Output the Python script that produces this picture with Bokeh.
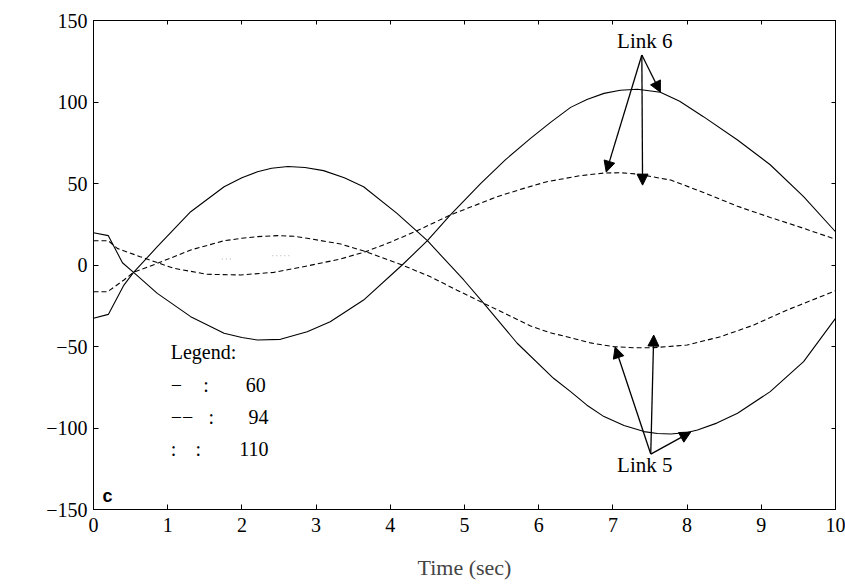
import math
from bokeh.plotting import figure
from bokeh.models import LinearAxis, Range1d, FixedTicker, Label, Arrow, NormalHead
from bokeh.embed import file_html
from bokeh.resources import INLINE

# ---- data ----
x_ticks = [0, 1, 2, 3, 4, 5, 6, 7, 8, 9, 10]
y_ticks = [-150, -100, -50, 0, 50, 100, 150]
y_tick_labels = ["\u2212150", "\u2212100", "\u221250", "0", "50", "100", "150"]

# Link 6, solid (60)
l6s_t = [0, 0.2, 0.39, 0.54, 0.86, 1.31, 1.76, 2.0, 2.21, 2.52, 2.88, 3.19, 3.64, 4.16, 4.5,
         4.81, 5.22, 5.55, 5.89, 6.16, 6.43, 6.65, 6.88, 7.1, 7.33, 7.64, 7.9, 8.22, 8.68, 9.12, 9.57, 10]
l6s_v = [19.8, 18, 1.4, -4.5, -17.4, -31.7, -41.9, -44.5, -46, -45.6, -40.9, -34.8, -21.5, 0, 14.9,
         30.7, 50.1, 64.5, 77.7, 87.5, 96.7, 101.5, 105.3, 107.2, 107.8, 106, 100.5, 91, 76.7, 61.5, 41.9, 20.4]

# Link 5, solid (60)
l5s_t = [0, 0.2, 0.41, 0.54, 0.86, 1.31, 1.76, 2.0, 2.21, 2.4, 2.62, 2.85, 3.10, 3.38, 3.64, 4.09, 4.5,
         4.99, 5.26, 5.71, 6.2, 6.43, 6.65, 6.88, 7.15, 7.42, 7.6, 7.78, 8.0, 8.14, 8.4, 8.68, 9.12, 9.57, 10]
l5s_v = [-32.7, -30.3, -12.3, -4.5, 11.2, 32.7, 48, 53.5, 57.2, 59.4, 60.4, 59.8, 57.9, 53.5, 48, 31.7, 14.9,
         -9.2, -23.5, -48, -69.5, -77.7, -86, -93, -98.5, -102.2, -103.4, -103.7, -102.8, -101.2, -97, -91, -77.7, -59.3, -32.7]

# Link 6, dashed (94)
l6d_t = [0, 0.2, 0.32, 0.63, 1.08, 1.53, 1.98, 2.43, 2.88, 3.33, 3.67, 4.0, 4.36, 4.81, 5.44,
         5.8, 6.11, 6.56, 6.88, 7.1, 7.33, 7.78, 8.22, 8.68, 9.12, 9.57, 10]
l6d_v = [14.9, 14.9, 10.2, 5.1, -2, -5.7, -6.1, -4.5, -0.6, 3.7, 8.2, 14, 21, 30.7, 41.9,
         47, 51.1, 54.8, 56.4, 56.6, 55.8, 52.1, 44.5, 36, 29.2, 22.5, 15.8]

# Link 5, dashed (94)
l5d_t = [0, 0.19, 0.41, 0.54, 0.86, 1.31, 1.76, 2.0, 2.21, 2.48, 2.7, 2.88, 3.33, 3.67, 4.16, 4.54,
         4.9, 5.26, 5.6, 5.89, 6.15, 6.43, 6.7, 7.01, 7.3, 7.55, 8.0, 8.45, 8.9, 9.35, 10]
l5d_v = [-16.4, -16.4, -9.2, -4.5, 1, 9.2, 14.9, 16.4, 17.4, 18, 17.6, 16.4, 12.9, 8.2, 0, -7.2,
         -15.5, -23.5, -31, -37.4, -41.5, -44.6, -47.8, -50.1, -50.8, -50.7, -49.1, -44, -36.8, -27.6, -15.8]

# faint visible fragments of the dotted (110) traces
dot1_t = [1.73, 1.87]
dot1_v = [3.7, 3.7]
dot2_t = [2.41, 2.68]
dot2_v = [5.7, 5.7]

legend_title = "Legend:"
legend_styles = ["\u2212", "\u2212\u2212", ":"]
legend_values = ["60", "94", "110"]

SERIF = "Liberation Serif"

p = figure(width=845, height=584, x_range=Range1d(0, 10), y_range=Range1d(-150, 150),
           output_backend="svg", toolbar_location=None,
           min_border_left=93, min_border_right=10, min_border_top=20, min_border_bottom=75,
           background_fill_color="white", border_fill_color="white")
p.grid.visible = False
p.outline_line_color = "black"
p.outline_line_width = 1

for ax in (p.xaxis[0], p.yaxis[0]):
    ax.major_tick_in = 5
    ax.major_tick_out = 0
    ax.minor_tick_in = 0
    ax.minor_tick_out = 0
    ax.axis_line_color = "black"
    ax.major_tick_line_color = "black"
    ax.major_label_text_font = SERIF
    ax.major_label_text_font_size = "20px"
    ax.major_label_text_color = "black"

p.xaxis.ticker = FixedTicker(ticks=x_ticks)
p.yaxis.ticker = FixedTicker(ticks=y_ticks)
p.yaxis.major_label_overrides = {t: s for t, s in zip(y_ticks, y_tick_labels)}
p.xaxis.major_label_standoff = 8
p.yaxis.major_label_standoff = 6
p.xaxis.axis_label = "Time (sec)"
p.xaxis.axis_label_text_font = SERIF
p.xaxis.axis_label_text_font_size = "22px"
p.xaxis.axis_label_text_font_style = "normal"
p.xaxis.axis_label_standoff = 20

# top and right axes: inward ticks only, no labels drawn
top = LinearAxis(ticker=FixedTicker(ticks=x_ticks), major_tick_in=4, major_tick_out=0,
                 minor_tick_in=0, minor_tick_out=0, major_label_text_font_size="1px",
                 major_label_text_color=None, major_label_standoff=0)
right = LinearAxis(ticker=FixedTicker(ticks=y_ticks), major_tick_in=4, major_tick_out=0,
                   minor_tick_in=0, minor_tick_out=0, major_label_text_font_size="1px",
                   major_label_text_color=None, major_label_standoff=0)
p.add_layout(top, "above")
p.add_layout(right, "right")

# curves
p.line(l6s_t, l6s_v, line_color="black", line_width=1.1)
p.line(l5s_t, l5s_v, line_color="black", line_width=1.1)
p.line(l6d_t, l6d_v, line_color="black", line_width=1.1, line_dash="5 3")
p.line(l5d_t, l5d_v, line_color="black", line_width=1.1, line_dash="5 3")
p.line(dot1_t, dot1_v, line_color="#b0b0b0", line_width=1, line_dash="1 3")
p.line(dot2_t, dot2_v, line_color="#b0b0b0", line_width=1, line_dash="1 3")

# annotations: arrows
def arrow(x0, y0, x1, y1):
    p.add_layout(Arrow(end=NormalHead(size=11, fill_color="black", line_color="black"),
                       x_start=x0, y_start=y0, x_end=x1, y_end=y1,
                       line_color="black", line_width=1.3))

for tx, ty in [(6.91, 57), (7.40, 49), (7.64, 106)]:
    arrow(7.39, 128.8, tx, ty)
for tx, ty in [(7.03, -50.3), (7.55, -43), (8.05, -102.5)]:
    arrow(7.51, -116, tx, ty)

def label(x, y, text, size="20px", align="left", font=SERIF, style="normal", angle=0.0):
    p.add_layout(Label(x=x, y=y, text=text, text_font=font, text_font_size=size,
                       text_align=align, text_baseline="middle", text_color="black",
                       text_font_style=style, angle=angle))

label(7.43, 137.4, "Link 6", size="21px", align="center")
label(7.43, -122.7, "Link 5", size="21px", align="center")

# legend text block
label(1.04, -53.4, legend_title)
label(1.04, -73.6, legend_styles[0])
label(1.48, -73.6, ":")
label(2.32, -73.6, legend_values[0], align="right")
label(1.04, -93.3, legend_styles[1])
label(1.55, -93.3, ":")
label(2.36, -93.3, legend_values[1], align="right")
label(1.04, -112.9, legend_styles[2])
label(1.375, -112.9, ":")
label(2.36, -112.9, legend_values[2], align="right")

# panel letter
label(0.19, -142, "c", size="18px", align="center", font="Liberation Sans", style="bold")

# y axis label
label(-0.98, 15.3, "Force (Nt)", size="18px", align="center", angle=math.pi / 2)

open("out.html", "w").write(file_html(p, INLINE))
